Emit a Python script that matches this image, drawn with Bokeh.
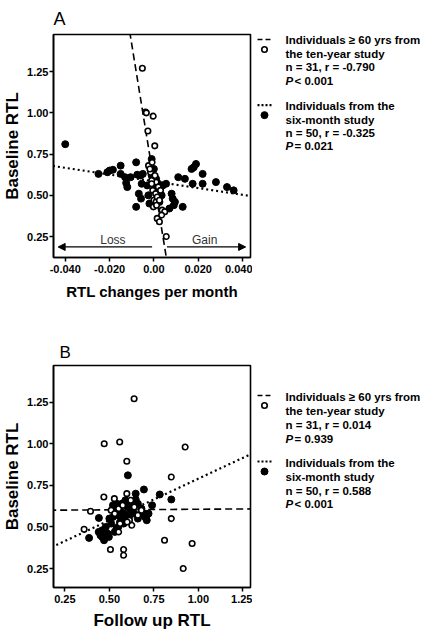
from bokeh.plotting import figure
from bokeh.layouts import column, row
from bokeh.models import Range1d, FixedTicker, Arrow, NormalHead
from bokeh.core.properties import value
from bokeh.embed import file_html
from bokeh.resources import INLINE

FONT = "Liberation Sans"

# ---------------- data: panel A (RTL change per month vs baseline RTL) ----------------
a_filled_x = [-0.040, -0.025, -0.021, -0.020, -0.0185, -0.015, -0.015, -0.013, -0.0125, -0.012,
              -0.0105, -0.008, -0.0075, -0.0068, -0.0058, -0.008, -0.006, -0.005, -0.0055, -0.003,
              -0.002, -0.0025, -0.001, -0.001, 0.000, 0.001, 0.0005, 0.002, 0.003, 0.004,
              0.0055, 0.0035, 0.0025, 0.007, 0.008, 0.0085, 0.009, 0.0095, 0.011, 0.013,
              0.014, 0.017, 0.018, 0.019, 0.0175, 0.022, 0.022, 0.028, 0.033, 0.036]
a_filled_y = [0.81, 0.63, 0.64, 0.65, 0.655, 0.68, 0.63, 0.61, 0.575, 0.55,
              0.61, 0.70, 0.625, 0.51, 0.48, 0.43, 0.62, 0.63, 0.57, 0.56,
              0.45, 0.50, 0.62, 0.72, 0.66, 0.60, 0.55, 0.57, 0.55, 0.56,
              0.57, 0.50, 0.46, 0.42, 0.51, 0.48, 0.44, 0.46, 0.61, 0.43,
              0.60, 0.66, 0.67, 0.69, 0.57, 0.63, 0.57, 0.58, 0.55, 0.53]
a_open_x = [-0.0052, -0.0038, -0.0034, -0.0003, -0.0027, 0.0004, -0.0024, -0.0008, -0.0015, 0.0000,
            0.0010, -0.0005, 0.0008, 0.0000, 0.0010, -0.0002, 0.0015, 0.0015, 0.0025, 0.0037,
            0.0049, 0.0056, 0.0020, -0.0010, 0.0005, 0.0030, 0.0012, -0.0018, 0.0035, 0.0025, -0.0010]
a_open_y = [1.27, 1.005, 1.00, 0.98, 0.89, 0.80, 0.68, 0.70, 0.64, 0.60,
            0.58, 0.53, 0.51, 0.47, 0.46, 0.43, 0.49, 0.36, 0.34, 0.41,
            0.40, 0.25, 0.55, 0.59, 0.62, 0.53, 0.44, 0.66, 0.38, 0.47, 0.57]
# regression lines (end points)
a_dash_x = [-0.0125, 0.0065]
a_dash_y = [1.624, 0.049]
a_dot_x = [-0.05, 0.05]
a_dot_y = [0.687, 0.483]
# Loss / Gain arrows
loss_arrow_x = [-0.0008, -0.0432]
gain_arrow_x = [0.0059, 0.0414]
arrow_y = 0.187
arrow_text = ["Loss", "Gain"]
arrow_text_x = [-0.0185, 0.0229]
arrow_text_y = [0.228, 0.228]

# ---------------- data: panel B (follow-up RTL vs baseline RTL) ----------------
b_open_x = [0.639, 0.471, 0.558, 0.926, 0.598, 0.848, 0.469, 0.528, 0.598, 0.394,
            0.552, 0.613, 0.626, 0.552, 0.358, 0.848, 0.506, 0.580, 0.580, 0.810,
            0.965, 0.915, 0.660, 0.510, 0.575, 0.640, 0.600, 0.530, 0.680, 0.560, 0.620]
b_open_y = [1.27, 1.00, 1.01, 0.98, 0.895, 0.80, 0.68, 0.67, 0.70, 0.594,
            0.61, 0.54, 0.51, 0.47, 0.486, 0.55, 0.364, 0.364, 0.33, 0.42,
            0.40, 0.25, 0.57, 0.60, 0.63, 0.62, 0.53, 0.58, 0.60, 0.52, 0.66]
b_filled_x = [0.604, 0.694, 0.648, 0.648, 0.783, 0.848, 0.441, 0.386, 0.459, 0.497,
              0.710, 0.700, 0.520, 0.540, 0.530, 0.560, 0.570, 0.580, 0.600, 0.620,
              0.630, 0.640, 0.600, 0.560, 0.550, 0.530, 0.510, 0.480, 0.460, 0.450,
              0.470, 0.440, 0.740, 0.680, 0.700, 0.660, 0.720, 0.570, 0.590, 0.550,
              0.620, 0.660, 0.500, 0.580, 0.610, 0.520, 0.490, 0.540, 0.690, 0.710]
b_filled_y = [0.81, 0.725, 0.70, 0.665, 0.695, 0.665, 0.554, 0.434, 0.44, 0.44,
              0.54, 0.58, 0.63, 0.64, 0.61, 0.60, 0.56, 0.58, 0.62, 0.63,
              0.60, 0.58, 0.55, 0.53, 0.50, 0.47, 0.52, 0.50, 0.48, 0.45,
              0.42, 0.47, 0.63, 0.61, 0.56, 0.55, 0.58, 0.64, 0.66, 0.57,
              0.59, 0.64, 0.55, 0.52, 0.56, 0.56, 0.46, 0.49, 0.58, 0.57]
b_dash_x = [0.10, 1.40]
b_dash_y = [0.600, 0.609]
b_dot_x = [0.10, 1.40]
b_dot_y = [0.34, 0.99]

# ---------------- ticks ----------------
y_ticks = [0.25, 0.50, 0.75, 1.00, 1.25]
y_tick_labels = ["0.25", "0.50", "0.75", "1.00", "1.25"]
a_x_ticks = [-0.04, -0.02, 0.0, 0.02, 0.04]
a_x_tick_labels = ["-0.040", "-0.020", "0.00", "0.020", "0.040"]
b_x_ticks = [0.25, 0.50, 0.75, 1.00, 1.25]
b_x_tick_labels = ["0.25", "0.50", "0.75", "1.00", "1.25"]

# ---------------- legend texts ----------------
legend_a = [["Individuals \u2265 60 yrs from", "the ten-year study", "n = 31, r = -0.790", ("P", "< 0.001")],
            ["Individuals from the", "six-month study", "n = 50, r = -0.325", ("P", "= 0.021")]]
legend_b = [["Individuals \u2265 60 yrs from", "the ten-year study", "n = 31, r = 0.014", ("P", "= 0.939")],
            ["Individuals from the", "six-month study", "n = 50, r = 0.588", ("P", "< 0.001")]]

PLOT_W = 252
LEG_W = 178


def make_plot(xr, yr, height, top, bottom, xticks, xlabels, letter, lsize, lstand, loff,
              xtitle, xsize, xstand):
    p = figure(width=PLOT_W, height=height, x_range=Range1d(*xr), y_range=Range1d(*yr),
               output_backend="svg", toolbar_location=None, title=letter,
               min_border_left=50, min_border_right=2, min_border_top=top, min_border_bottom=bottom)
    p.title.text_font = FONT
    p.title.text_font_style = "normal"
    p.title.text_font_size = lsize
    p.title.align = "left"
    p.title.standoff = lstand
    p.title.offset = loff
    p.title.text_color = "black"
    p.grid.visible = False
    p.outline_line_color = "black"
    p.outline_line_width = 1.6
    for ax in (p.xaxis[0], p.yaxis[0]):
        ax.axis_line_width = 1.6
        ax.axis_line_color = "black"
        ax.major_tick_line_width = 1.5
        ax.major_tick_line_color = "black"
        ax.major_tick_in = 0
        ax.major_tick_out = 4
        ax.minor_tick_line_color = None
        ax.major_label_text_font = FONT
        ax.major_label_text_font_style = "bold"
        ax.major_label_text_font_size = "11px"
        ax.major_label_text_color = "black"
        ax.axis_label_text_font = FONT
        ax.axis_label_text_font_style = "bold"
        ax.axis_label_text_color = "black"
    p.xaxis.major_label_standoff = 3
    p.yaxis.major_label_standoff = 1
    p.xaxis.axis_label = xtitle
    p.xaxis.axis_label_text_font_size = xsize
    p.xaxis.axis_label_standoff = xstand
    p.yaxis.axis_label = "Baseline RTL"
    p.yaxis.axis_label_text_font_size = "17px"
    p.yaxis.axis_label_standoff = 2
    p.xaxis.ticker = FixedTicker(ticks=xticks)
    p.xaxis.major_label_overrides = dict(zip(xticks, xlabels))
    p.yaxis.ticker = FixedTicker(ticks=y_ticks)
    p.yaxis.major_label_overrides = dict(zip(y_ticks, y_tick_labels))
    return p


def make_legend(height, frame_top, frame_bottom, entries, rows):
    # legend panel: its frame lines up with the plot frame, so its y range is given in page pixels
    lg = figure(width=LEG_W, height=height, x_range=Range1d(PLOT_W, PLOT_W + LEG_W),
                y_range=Range1d(frame_bottom, frame_top),
                x_axis_type=None, y_axis_type=None, output_backend="svg",
                toolbar_location=None, min_border=0)
    lg.outline_line_color = None
    lg.grid.visible = False
    styles = [dict(line_dash="5 3", line_width=1.6), dict(line_dash="2 2", line_width=2.2)]
    for i, (entry, ys) in enumerate(zip(entries, rows)):
        lg.line([257, 271], [ys[0] - 1, ys[0] - 1], line_color="black", **styles[i])
        if i == 0:
            lg.scatter([264], [ys[0] + 9], size=5.5, marker="circle", fill_color="white",
                       line_color="black", line_width=1.6)
        else:
            lg.scatter([264], [ys[0] + 9], size=7, marker="circle", fill_color="black",
                       line_color="black")
        lg.text(x=[285] * 3, y=ys[:3], text=entry[:3], text_font=value(FONT), text_font_style="bold",
                text_font_size="11.5px", text_baseline="middle", text_align="left", text_color="black")
        lg.text(x=[285], y=[ys[3]], text=[entry[3][0]], text_font=value(FONT),
                text_font_style="bold italic", text_font_size="11.5px", text_baseline="middle",
                text_align="left", text_color="black")
        lg.text(x=[294], y=[ys[3]], text=[entry[3][1]], text_font=value(FONT),
                text_font_style="bold", text_font_size="11.5px", text_baseline="middle",
                text_align="left", text_color="black")
    return lg


# ---------------- panel A ----------------
pA = make_plot((-0.0453, 0.0436), (0.123, 1.475), 318, 33, 61, a_x_ticks, a_x_tick_labels,
               "A", "18px", 12, 0, "RTL changes per month", "15px", 7)
pA.line(a_dash_x, a_dash_y, line_color="black", line_width=1.6, line_dash="7 4")
pA.line(a_dot_x, a_dot_y, line_color="black", line_width=2.2, line_dash="2 3")
pA.scatter(a_filled_x, a_filled_y, size=7, marker="circle", fill_color="black", line_color="black")
pA.scatter(a_open_x, a_open_y, size=5.5, marker="circle", fill_color="white", line_color="black",
           line_width=1.6)
head = dict(size=7, fill_color="black", line_color="black")
pA.add_layout(Arrow(end=NormalHead(**head), x_start=loss_arrow_x[0], x_end=loss_arrow_x[1],
                    y_start=arrow_y, y_end=arrow_y, line_width=1.2, line_color="black"))
pA.add_layout(Arrow(end=NormalHead(**head), x_start=gain_arrow_x[0], x_end=gain_arrow_x[1],
                    y_start=arrow_y, y_end=arrow_y, line_width=1.2, line_color="black"))
pA.text(x=arrow_text_x, y=arrow_text_y, text=arrow_text, text_font=value(FONT),
        text_font_size="12px", text_align="center", text_baseline="middle", text_color="#333333")
legA = make_legend(318, 33, 257, legend_a, [[39, 52.5, 66, 79.5], [105, 118.5, 132, 145.5]])

# ---------------- panel B ----------------
pB = make_plot((0.186, 1.293), (0.136, 1.47), 316, 47, 47, b_x_ticks, b_x_tick_labels,
               "B", "17px", 8, 6, "Follow up RTL", "17px", 5)
pB.line(b_dash_x, b_dash_y, line_color="black", line_width=1.6, line_dash="7 4")
pB.line(b_dot_x, b_dot_y, line_color="black", line_width=2.2, line_dash="2 3")
pB.scatter(b_filled_x, b_filled_y, size=7, marker="circle", fill_color="black", line_color="black")
pB.scatter(b_open_x, b_open_y, size=5.5, marker="circle", fill_color="white", line_color="black",
           line_width=1.6)
legB = make_legend(316, 365, 587, legend_b, [[396, 410, 424, 438], [462, 476, 490, 503.5]])

layout = column(row(pA, legA), row(pB, legB))
open("out.html", "w").write(file_html(layout, INLINE))
